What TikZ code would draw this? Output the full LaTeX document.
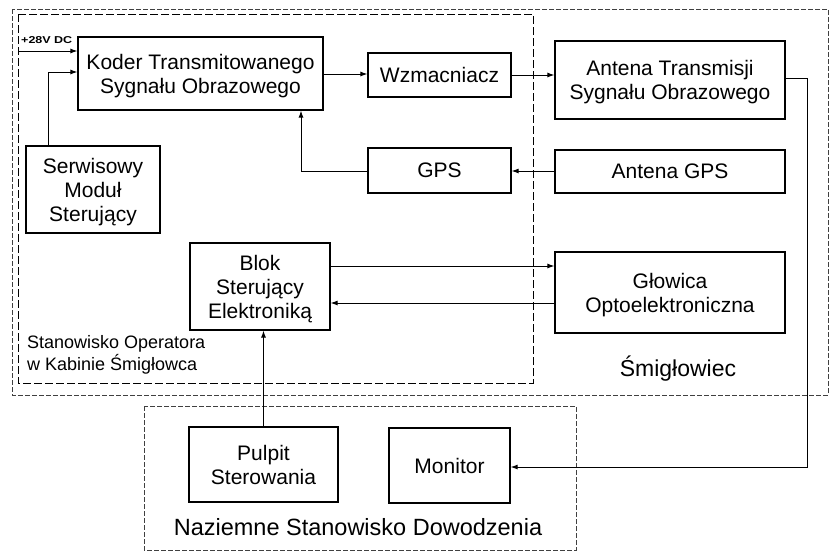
\documentclass[tikz,border=0pt]{standalone}
\usepackage{fontspec}
\setmainfont{Liberation Sans}
\usetikzlibrary{arrows.meta}
\begin{document}
\begin{tikzpicture}[x=1pt,y=-1pt,
  box/.style={draw=black, line width=1.2pt, inner sep=0pt, align=center, text depth=0pt, font=\fontsize{21}{24}\selectfont},
  arr/.style={line width=1pt, -{Latex[length=7pt,width=5pt]}},
  outerframe/.style={draw=black!75, line width=0.8pt, dash pattern=on 5pt off 2pt},
  innerframe/.style={draw=black, line width=1pt, dash pattern=on 8pt off 3pt},
  lbl/.style={inner sep=0pt, align=left},
]
\useasboundingbox (0,0) rectangle (832,552);
% frames
\draw[outerframe] (12,9) rectangle (828,395);
\draw[innerframe] (18,14) rectangle (533,383);
\draw[outerframe] (144,406) rectangle (576,550);
% boxes
\node[box, minimum width=245pt, minimum height=73pt] (Koder) at (200.5,73.5) {Koder Transmitowanego\\Sygnału Obrazowego};
\node[box, minimum width=143pt, minimum height=44pt] (Wzm) at (439.5,75) {Wzmacniacz};
\node[box, minimum width=230pt, minimum height=78pt] (AntT) at (670,80) {Antena Transmisji\\Sygnału Obrazowego};
\node[box, minimum width=143pt, minimum height=45pt] (GPS) at (439.5,170.5) {GPS};
\node[box, minimum width=230pt, minimum height=43pt] (AntGPS) at (670,171.5) {Antena GPS};
\node[box, minimum width=134pt, minimum height=87pt] (Serw) at (93,189.5) {Serwisowy\\Moduł\\Sterujący};
\node[box, minimum width=140pt, minimum height=87pt] (Blok) at (260,286.5) {Blok\\Sterujący\\Elektroniką};
\node[box, minimum width=230pt, minimum height=81pt] (Glow) at (670,292.5) {Głowica\\Optoelektroniczna};
\node[box, minimum width=149pt, minimum height=75pt] (Pulpit) at (263.5,464.5) {Pulpit\\Sterowania};
\node[box, minimum width=121pt, minimum height=75pt] (Monitor) at (449.5,465.5) {Monitor};
% labels
\node[lbl, anchor=base west] (v28) at (21,43) {\bfseries\fontsize{10}{12}\selectfont\scalebox{1.25}[1]{+28V DC}};
\node[lbl, anchor=base west, font=\fontsize{18}{22}\selectfont] (opLbl) at (27,370) {Stanowisko Operatora\\w Kabinie Śmigłowca};
\node[lbl, anchor=base, font=\fontsize{23}{27}\selectfont] (heliLbl) at (678,376) {Śmigłowiec};
\node[lbl, anchor=base, font=\fontsize{23.5}{28}\selectfont] (gndLbl) at (358,535) {Naziemne Stanowisko Dowodzenia};
% helper coordinates
\coordinate (p28) at (18,51);
\coordinate (y72) at (0,72);
\coordinate (y74) at (0,74);
\coordinate (y171) at (0,171);
\coordinate (y266) at (0,266);
\coordinate (y303) at (0,303);
\coordinate (k1) at (301,0);
\coordinate (c1) at (807,78);
\coordinate (c2) at (807,467);
% connectors
\draw[arr] (p28) -- (Koder.west |- p28);
\draw[arr] ([xshift=23pt]Serw.north west) |- (Koder.west |- y72);
\draw[arr] (Koder.east |- y74) -- (Wzm.west |- y74);
\draw[arr] (Wzm.east) -- (AntT.west |- Wzm.east);
\draw[arr] (AntT.east |- c1) -- (c1) -- (c2) -- (Monitor.east |- c2);
\draw[arr] (AntGPS.west |- y171) -- (GPS.east |- y171);
\draw[arr] (GPS.west |- y171) -| (Koder.south -| k1);
\draw[arr] (Blok.east |- y266) -- (Glow.west |- y266);
\draw[arr] (Glow.west |- y303) -- (Blok.east |- y303);
\draw[arr] (Pulpit.north) -- (Blok.south -| Pulpit.north);
\end{tikzpicture}
\end{document}
